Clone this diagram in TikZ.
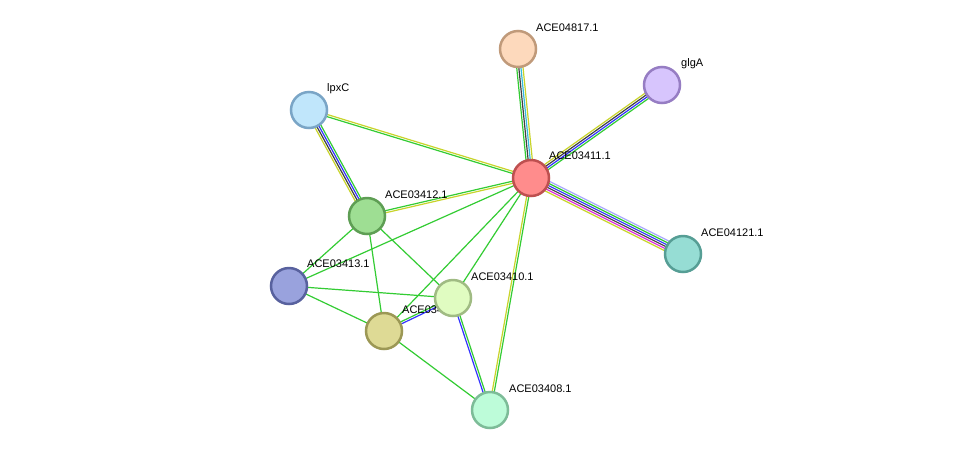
\documentclass[tikz,border=0pt]{standalone}
\usepackage{fontspec}
\setmainfont{Liberation Sans}
\usetikzlibrary{calc}
\definecolor{eg}{HTML}{33CC33}
\definecolor{ey}{HTML}{C8D42A}
\definecolor{eb}{HTML}{3333FF}
\definecolor{ek}{HTML}{404040}
\definecolor{ec}{HTML}{33BBDD}
\definecolor{el}{HTML}{A8A8FF}
\definecolor{em}{HTML}{DD33DD}
\newcommand{\medge}[3]{%
  \foreach \c [count=\i] in {#3} {\xdef\nn{\i}}%
  \foreach \c [count=\i] in {#3} {%
    \pgfmathsetmacro{\o}{(\i-(\nn+1)/2)*2.1}%
    \draw[line width=1.2pt,\c] ($(#1)!\o pt!90:(#2)$) -- ($(#2)!\o pt!-90:(#1)$);
  }}
\begin{document}
\begin{tikzpicture}[x=1pt,y=-1pt,
  nd/.style={circle,minimum size=36pt,inner sep=0pt,line width=2.5pt},
  lb/.style={anchor=west,font=\fontsize{11}{12}\selectfont,inner sep=0pt}]
\useasboundingbox[fill=white] (0,0) rectangle (976,456);
\coordinate (A11) at (531,178);
\coordinate (A4817) at (518,49);
\coordinate (glgA) at (662,85);
\coordinate (lpxC) at (309,110);
\coordinate (A12) at (367,216);
\coordinate (A4121) at (683,254);
\coordinate (A13) at (289,286);
\coordinate (A10) at (453,298);
\coordinate (A09) at (384,331);
\coordinate (A08) at (490,410);
\medge{A11}{A4817}{ey,ec,ek,eg}
\medge{A11}{glgA}{eg,eb,ek,ey}
\medge{A11}{A4121}{ey,em,ek,eb,eg,el}
\medge{A11}{lpxC}{ey,eg}
\medge{A11}{A12}{eg,ey}
\medge{A11}{A13}{eg}
\medge{A11}{A10}{eg}
\medge{A11}{A09}{eg}
\medge{A11}{A08}{ey,eg}
\medge{lpxC}{A12}{ey,ek,eb,eg}
\medge{A12}{A13}{eg}
\medge{A12}{A09}{eg}
\medge{A12}{A10}{eg}
\medge{A13}{A10}{eg}
\medge{A13}{A09}{eg}
\medge{A09}{A10}{eb,eg}
\medge{A09}{A08}{eg}
\medge{A10}{A08}{eb,eg}
\node[lb] (l09) at (402,310) {ACE03409.1};
\node[nd,fill={rgb,255:red,255;green,140;blue,140},draw={rgb,255:red,190;green,80;blue,80}] (n11) at (A11) {};
\node[nd,fill={rgb,255:red,253;green,217;blue,188},draw={rgb,255:red,192;green,154;blue,122}] (n4817) at (A4817) {};
\node[nd,fill={rgb,255:red,215;green,197;blue,253},draw={rgb,255:red,150;green,125;blue,195}] (nglgA) at (glgA) {};
\node[nd,fill={rgb,255:red,192;green,230;blue,251},draw={rgb,255:red,122;green,165;blue,198}] (nlpxC) at (lpxC) {};
\node[nd,fill={rgb,255:red,158;green,222;blue,147},draw={rgb,255:red,94;green,158;blue,84}] (n12) at (A12) {};
\node[nd,fill={rgb,255:red,150;green,221;blue,212},draw={rgb,255:red,86;green,158;blue,149}] (n4121) at (A4121) {};
\node[nd,fill={rgb,255:red,153;green,162;blue,221},draw={rgb,255:red,88;green,97;blue,158}] (n13) at (A13) {};
\node[nd,fill={rgb,255:red,222;green,218;blue,149},draw={rgb,255:red,156;green,152;blue,85}] (n09) at (A09) {};
\node[nd,fill={rgb,255:red,224;green,252;blue,193},draw={rgb,255:red,160;green,187;blue,131}] (n10) at (A10) {};
\node[nd,fill={rgb,255:red,189;green,252;blue,217},draw={rgb,255:red,125;green,188;blue,152}] (n08) at (A08) {};
\node[lb] (l4817) at (536,28) {ACE04817.1};
\node[lb] (lglgA) at (681,64) {glgA};
\node[lb] (llpxC) at (327,89) {lpxC};
\node[lb] (l11) at (549,156) {ACE03411.1};
\node[lb] (l12) at (385,195) {ACE03412.1};
\node[lb] (l4121) at (701,233) {ACE04121.1};
\node[lb] (l13) at (307,264) {ACE03413.1};
\node[lb] (l10) at (471,277) {ACE03410.1};
\node[lb] (l08) at (509,389) {ACE03408.1};
\end{tikzpicture}
\end{document}
